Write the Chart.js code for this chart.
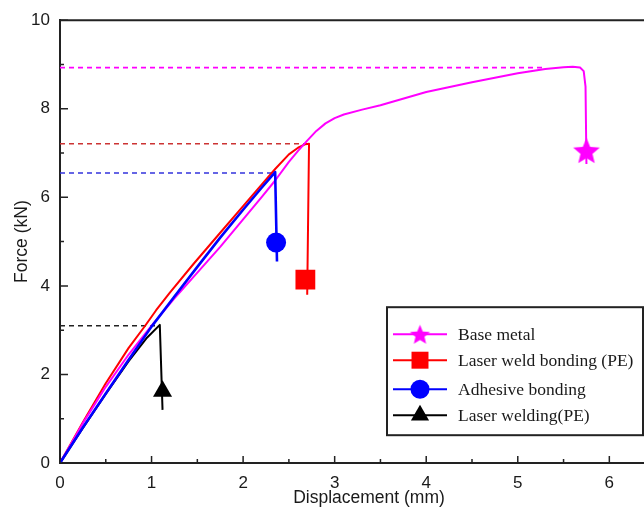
<!DOCTYPE html>
<html><head><meta charset="utf-8">
<script src="https://cdn.jsdelivr.net/npm/chart.js@4/dist/chart.umd.min.js"></script>
<style>
html,body{margin:0;padding:0;overflow:hidden;background:#fff}
#c{display:block}
</style>
</head><body>
<canvas id="c" width="692" height="514"></canvas>
<script>
// ---------- data ----------
const seriesLabels = ['Base metal', 'Laser weld bonding (PE)', 'Adhesive bonding', 'Laser welding(PE)'];
const seriesColors = ['#ff00ff', '#ff0000', '#0000ff', '#000000'];
const dashColors   = ['#ff00ff', '#cc3333', '#3333dd', '#222222'];

const baseMetalX = [0, 0.25, 0.5, 0.75, 1.0, 1.25, 1.5, 1.75, 2.0, 2.2, 2.35, 2.5, 2.6, 2.7, 2.8, 2.9, 3.0, 3.1, 3.3, 3.5, 4.0, 4.5, 5.0, 5.3, 5.5, 5.6, 5.68, 5.72, 5.74, 5.75];
const baseMetalY = [0, 0.9, 1.72, 2.45, 3.1, 3.72, 4.3, 4.88, 5.5, 6.0, 6.38, 6.8, 7.05, 7.28, 7.5, 7.67, 7.79, 7.87, 7.98, 8.08, 8.38, 8.6, 8.8, 8.9, 8.94, 8.95, 8.93, 8.85, 8.5, 6.75];

const weldBondX = [0, 0.25, 0.5, 0.75, 0.93, 1.05, 1.2, 1.46, 1.75, 2.0, 2.2, 2.35, 2.5, 2.6, 2.68, 2.72, 2.70];
const weldBondY = [0, 0.92, 1.8, 2.6, 3.1, 3.45, 3.85, 4.5, 5.2, 5.8, 6.28, 6.64, 6.97, 7.12, 7.2, 7.21, 3.8];

const adhesiveX = [0, 0.25, 0.5, 0.75, 1.0, 1.25, 1.5, 1.75, 2.0, 2.2, 2.35, 2.37];
const adhesiveY = [0, 0.8, 1.57, 2.33, 3.08, 3.76, 4.43, 5.09, 5.72, 6.21, 6.57, 4.55];

const laserWeldX = [0, 0.25, 0.5, 0.75, 0.95, 1.09, 1.12];
const laserWeldY = [0, 0.79, 1.56, 2.3, 2.83, 3.12, 1.2];

const peakForce = [8.93, 7.21, 6.55, 3.1];
const peakDispEnd = [5.3, 2.7, 2.35, 1.09];

const markerX = [5.75, 2.68, 2.36, 1.12];
const markerY = [7.05, 4.14, 4.98, 1.62];

const xTickMajor = [0, 1, 2, 3, 4, 5, 6];
const xTickMinor = [0.5, 1.5, 2.5, 3.5, 4.5, 5.5, 6.5];
const yTickMajor = [0, 2, 4, 6, 8, 10];
const yTickMinor = [1, 3, 5, 7, 9];

// ---------- helpers ----------
function pts(xs, ys) { return xs.map((x, i) => ({ x: x, y: ys[i] })); }
function starCanvas(r, color) {
  const s = Math.ceil(r * 2 + 2);
  const c = document.createElement('canvas');
  c.width = s; c.height = s;
  const g = c.getContext('2d');
  g.fillStyle = color;
  g.beginPath();
  for (let i = 0; i < 10; i++) {
    const rr = i % 2 ? r * 0.45 : r;
    const ang = -Math.PI / 2 + i * Math.PI / 5;
    g.lineTo(s / 2 + rr * Math.cos(ang), s / 2 + 1 + rr * Math.sin(ang));
  }
  g.closePath(); g.fill();
  return c;
}
const bigStar = starCanvas(14, '#ff00ff');
const smallStar = starCanvas(10.5, '#ff00ff');
const markerStyles = [bigStar, 'rect', 'circle', 'triangle'];
const markerRadius = [14, 14, 10, 11];
const legendStyles = [smallStar, 'rect', 'circle', 'triangle'];
const legendRadius = [10.5, 12, 9.5, 10.5];

const curves = [pts(baseMetalX, baseMetalY), pts(weldBondX, weldBondY), pts(adhesiveX, adhesiveY), pts(laserWeldX, laserWeldY)];
const curveWidths = [2, 2, 2.6, 2];
const curveOrder = [3, 4, 1, 2];

const datasets = [];
seriesLabels.forEach((lab, i) => {
  datasets.push({
    label: lab + ' peak', data: [{ x: 0, y: peakForce[i] }, { x: peakDispEnd[i], y: peakForce[i] }],
    showLine: true, borderColor: dashColors[i], borderWidth: 1.6, borderDash: [5, 4],
    pointRadius: 0, order: 20 + i
  });
});
seriesLabels.forEach((lab, i) => {
  datasets.push({
    label: lab, data: curves[i], showLine: true, borderColor: seriesColors[i],
    borderWidth: curveWidths[i], pointRadius: 0, tension: 0, borderJoinStyle: 'round', order: 10 + curveOrder[i]
  });
});
seriesLabels.forEach((lab, i) => {
  datasets.push({
    label: lab + ' marker', data: [{ x: markerX[i], y: markerY[i] }], showLine: false,
    pointStyle: markerStyles[i], pointRadius: markerRadius[i],
    backgroundColor: seriesColors[i], borderColor: seriesColors[i], borderWidth: 0, order: i
  });
});

const AX = '#222';
const frame = {
  id: 'frame',
  afterDatasetsDraw(chart) {
    const { ctx, chartArea: a, scales: { x, y } } = chart;
    ctx.save();
    ctx.strokeStyle = AX; ctx.lineWidth = 2;
    ctx.beginPath(); ctx.moveTo(a.left - 1, a.top); ctx.lineTo(a.right, a.top); ctx.stroke();
    ctx.lineWidth = 1.5; ctx.beginPath();
    xTickMajor.forEach(v => { const p = x.getPixelForValue(v); ctx.moveTo(p, a.bottom); ctx.lineTo(p, a.bottom - 7); });
    xTickMinor.forEach(v => { const p = x.getPixelForValue(v); ctx.moveTo(p, a.bottom); ctx.lineTo(p, a.bottom - 4); });
    yTickMajor.forEach(v => { const p = y.getPixelForValue(v); ctx.moveTo(a.left, p); ctx.lineTo(a.left + 8, p); });
    yTickMinor.forEach(v => { const p = y.getPixelForValue(v); ctx.moveTo(a.left, p); ctx.lineTo(a.left + 4, p); });
    ctx.stroke();
    ctx.restore();
  }
};

const legendBox = {
  id: 'legendBox',
  afterDraw(chart) {
    const { ctx, chartArea: a } = chart;
    const L = a.left + 327, T = a.top + 287, W = 256, H = 128;
    const rows = [27, 53, 82, 108];
    ctx.save();
    ctx.fillStyle = '#fff'; ctx.fillRect(L, T, W, H);
    ctx.strokeStyle = AX; ctx.lineWidth = 2; ctx.strokeRect(L, T, W, H);
    ctx.font = '17.5px "Liberation Serif", "Times New Roman", serif';
    ctx.textBaseline = 'middle'; ctx.textAlign = 'left';
    seriesLabels.forEach((lab, i) => {
      const yy = T + rows[i];
      ctx.strokeStyle = seriesColors[i]; ctx.lineWidth = 2;
      ctx.beginPath(); ctx.moveTo(L + 6, yy); ctx.lineTo(L + 60, yy); ctx.stroke();
      ctx.fillStyle = seriesColors[i];
      Chart.helpers.drawPoint(ctx, { pointStyle: legendStyles[i], radius: legendRadius[i], rotation: 0, borderWidth: 0 }, L + 33, yy);
      ctx.fillStyle = '#1a1a1a';
      ctx.fillText(lab, L + 71, yy + 1);
    });
    ctx.restore();
  }
};

const tickFont = { family: '"Liberation Sans", Arial, sans-serif', size: 17 };
const titleFont = { family: '"Liberation Sans", Arial, sans-serif', size: 17.5 };

new Chart(document.getElementById('c'), {
  type: 'scatter',
  data: { datasets: datasets },
  options: {
    responsive: false, devicePixelRatio: 1, animation: false,
    layout: { padding: { top: 19, right: 2, left: 0, bottom: 0 } },
    plugins: { legend: { display: false }, tooltip: { enabled: false } },
    scales: {
      x: {
        type: 'linear', min: 0, max: 6.75,
        afterFit: s => { s.height = 51; },
        ticks: { stepSize: 1, includeBounds: false, padding: 10, color: '#1a1a1a', font: tickFont },
        grid: { display: true, drawOnChartArea: false, drawTicks: false },
        border: { display: true, color: AX, width: 2 },
        title: { display: true, text: 'Displacement (mm)', color: '#1a1a1a', font: titleFont, padding: { top: 0, bottom: 5 } }
      },
      y: {
        type: 'linear', min: 0, max: 10,
        afterFit: s => { s.width = 60; },
        ticks: { stepSize: 2, padding: 10, color: '#1a1a1a', font: tickFont },
        grid: { display: true, drawOnChartArea: false, drawTicks: false },
        border: { display: true, color: AX, width: 2 },
        title: { display: true, text: 'Force (kN)', color: '#1a1a1a', font: titleFont, padding: { top: 12, bottom: 0 } }
      }
    }
  },
  plugins: [frame, legendBox]
});
</script>
</body></html>
